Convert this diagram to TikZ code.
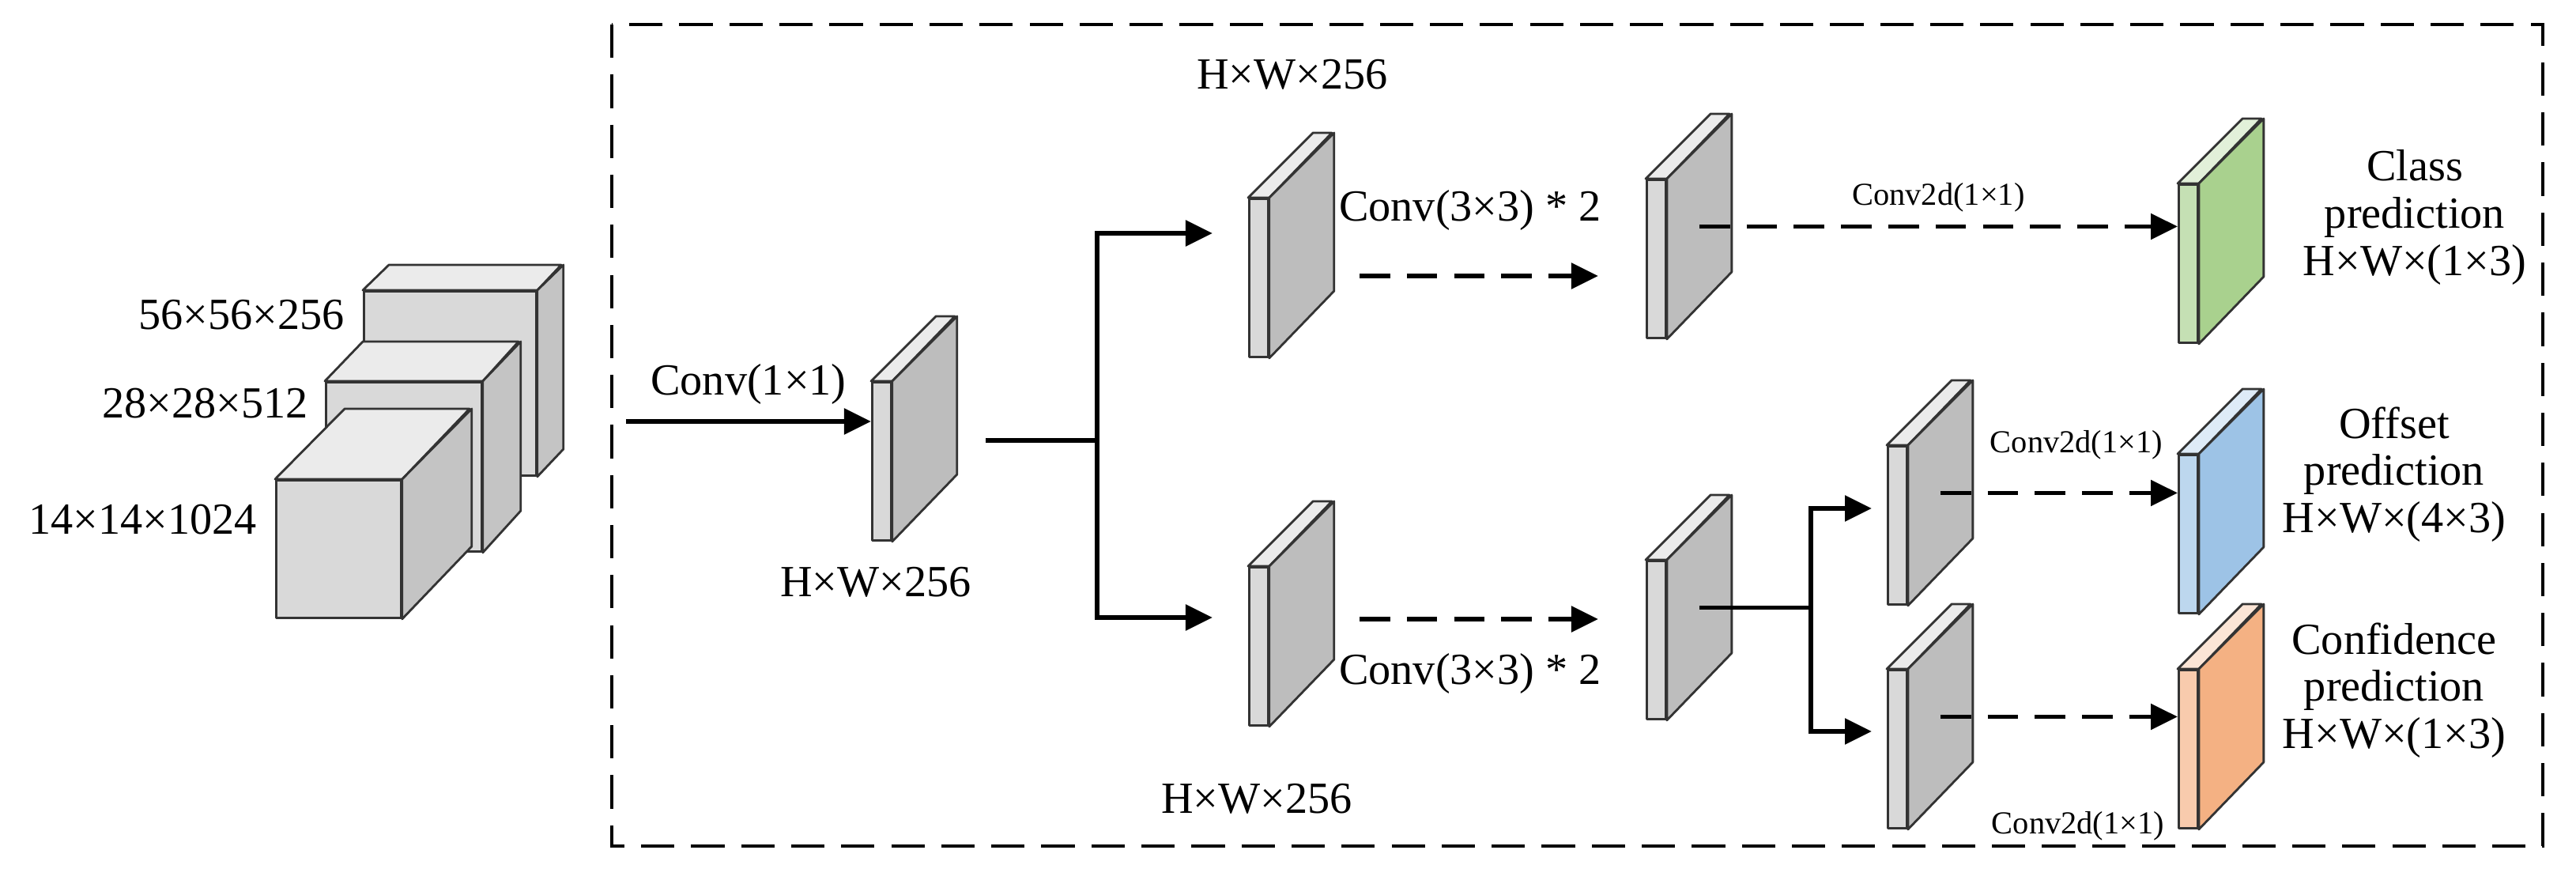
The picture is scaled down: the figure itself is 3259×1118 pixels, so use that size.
\documentclass[tikz,border=0pt]{standalone}
\usepackage{fontspec}
\setmainfont{Liberation Serif}
\usetikzlibrary{arrows.meta,calc,positioning}

\definecolor{fgray}{HTML}{D9D9D9}
\definecolor{sgray}{HTML}{BDBDBD}
\definecolor{tgray}{HTML}{EBEBEB}
\definecolor{fgreen}{HTML}{C5E0B4}
\definecolor{sgreen}{HTML}{A9D18E}
\definecolor{tgreen}{HTML}{E2F0D9}
\definecolor{fblue}{HTML}{BDD7EE}
\definecolor{sblue}{HTML}{9DC3E6}
\definecolor{tblue}{HTML}{DEEBF7}
\definecolor{forange}{HTML}{F8CBAD}
\definecolor{sorange}{HTML}{F4B183}
\definecolor{torange}{HTML}{FBE5D6}

\tikzset{
  face/.style={draw=black!80, line width=0.8pt, line join=round},
  big/.style={font=\fontsize{16}{19}\selectfont, align=center},
  small/.style={font=\fontsize{11.5}{13}\selectfont},
  flow/.style={line width=1.6pt, -{Triangle[length=0.34cm,width=0.32cm]}},
  dflow/.style={flow, dash pattern=on 11pt off 6pt},
}

% thin feature plate: name, front top-left x, y, front, side, top colours
\newcommand{\plate}[6]{
  \node[face, fill=#4, inner sep=0pt, minimum width=0.24cm, minimum height=2cm,
        anchor=north west] (#1) at (#2,#3) {};
  \draw[face, fill=#6] (#1.north west) -- ++(82,-82) -- ++(24,0) -- (#1.north east) -- cycle;
  \draw[face, fill=#5] (#1.north east) -- ++(82,-82) -- ++(0,200) -- (#1.south east) -- cycle;
  \coordinate (#1-c) at ($(#1.east)+(41,-41)$);
}
% input block: name, x, y, width, height, dx, dy
\newcommand{\block}[7]{
  \node[face, fill=fgray, inner sep=0pt, minimum width=#4*0.01cm, minimum height=#5*0.01cm,
        anchor=north west] (#1) at (#2,#3) {};
  \draw[face, fill=tgray] (#1.north west) -- ++(#6,-#7) -- ++(#4,0) -- (#1.north east) -- cycle;
  \draw[face, fill=sgray!90] (#1.north east) -- ++(#6,-#7) -- ++(0,#5) -- (#1.south east) -- cycle;
}

\begin{document}
\begin{tikzpicture}[x=0.01cm, y=-0.01cm]
\useasboundingbox (0,0) rectangle (3259,1118);

% input pyramid
\block{b1}{459}{367}{218}{233}{33}{32}
\block{b2}{411}{482}{197}{214}{48}{50}
\block{b3}{348}{606}{158}{174}{88}{89}
\node[big, anchor=east] (l1) at (448,398) {56×56×256};
\node[big, anchor=east] (l2) at (402,510) {28×28×512};
\node[big, anchor=east] (l3) at (337,657) {14×14×1024};

% dashed frame
\draw[line width=1.3pt, dash pattern=on 12pt off 6pt] (774,31) rectangle (3217,1070);

% plates
\plate{p1}{1102}{482}{fgray}{sgray}{tgray}
\plate{p2}{1579}{250}{fgray}{sgray}{tgray}
\plate{p3}{1579}{716}{fgray}{sgray}{tgray}
\plate{p4}{2082}{226}{fgray}{sgray}{tgray}
\plate{p5}{2082}{708}{fgray}{sgray}{tgray}
\plate{p6}{2387}{563}{fgray}{sgray}{tgray}
\plate{p7}{2387}{846}{fgray}{sgray}{tgray}
\plate{cls}{2755}{232}{fgreen}{sgreen}{tgreen}
\plate{off}{2755}{574}{fblue}{sblue}{tblue}
\plate{conf}{2755}{846}{forange}{sorange}{torange}

% connectors
\coordinate (in) at (792,533);
\draw[flow] (in) -- (in -| p1.west) node[midway, above=2pt, big] {Conv(1×1)};
\coordinate (s1) at (1247,557);
\coordinate (j1) at (1388,557);
\draw[line width=1.6pt] (s1) -- (j1);
\coordinate (a2) at (1534,295);
\coordinate (a3) at (1534,781);
\draw[flow] (j1) |- (a2);
\draw[flow] (j1) |- (a3);

\coordinate (d2) at (2022,349);
\coordinate (d3) at (2022,783);
\draw[dflow] (1720,349) -- (d2);
\draw[dflow] (1720,783) -- (d3);
\node[big] (t2) at (1860,266) {Conv(3×3) * 2};
\node[big] (t3) at (1860,852) {Conv(3×3) * 2};

\draw[dflow] (p4-c) -- (p4-c -| cls.west) node[midway, above=1pt, small] {Conv2d(1×1)};
\coordinate (j2) at (2291,0);
\draw[line width=1.6pt] (p5-c) -- (p5-c -| j2);
\draw[flow] (p5-c -| j2) |- (2368,643);
\draw[flow] (p5-c -| j2) |- (2368,925);
\draw[dflow] (p6-c) -- (p6-c -| off.west);
\draw[dflow] (p7-c) -- (p7-c -| conf.west);
\node[small] (c6) at (2627,563) {Conv2d(1×1)};
\node[small] (c7) at (2629,1045) {Conv2d(1×1)};

% size labels
\node[big] (h1) at (1108,736) {H×W×256};
\node[big] (h2) at (1635,94) {H×W×256};
\node[big] (h3) at (1590,1010) {H×W×256};

% heads
\node[big] (o1) at (3055,275) {Class\\[-2pt] prediction\\[-2pt] H×W×(1×3)};
\node[big] (o2) at (3029,600) {Offset\\[-2pt] prediction\\[-2pt] H×W×(4×3)};
\node[big] (o3) at (3029,873) {Confidence\\[-2pt] prediction\\[-2pt] H×W×(1×3)};
\end{tikzpicture}
\end{document}
